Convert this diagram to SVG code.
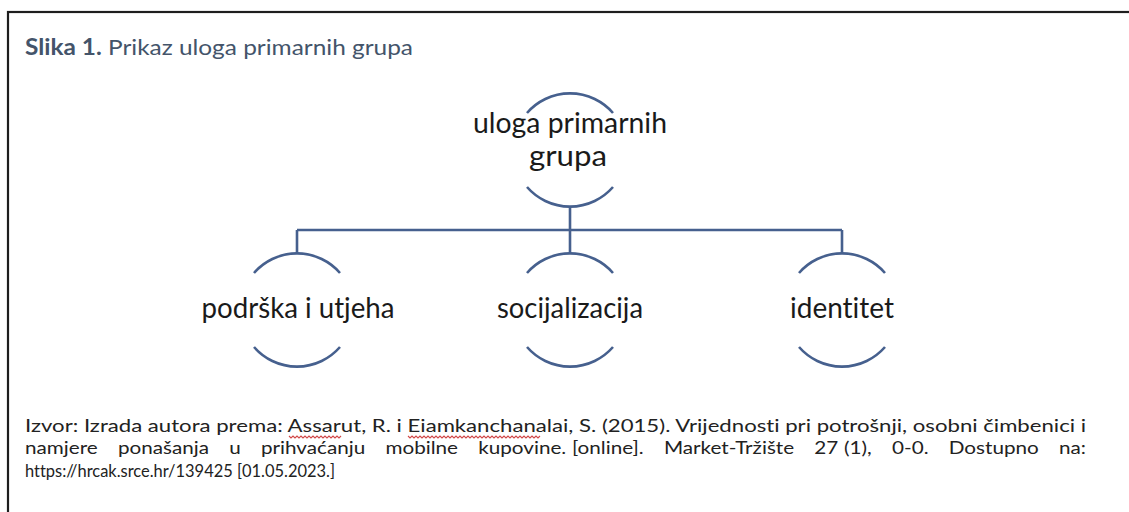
<svg xmlns="http://www.w3.org/2000/svg" width="1129" height="512" viewBox="0 0 1129 512">
<defs>
<style>
.frame{fill:#ffffff;stroke:#1e1e1e;stroke-width:2.2}
.arc{fill:none;stroke:#46608e;stroke-width:2.6;stroke-linecap:butt}
.conn{fill:none;stroke:#46608e;stroke-width:2.6}
text{font-variant-ligatures:none}
.node{font-family:Lato,"Liberation Sans",Arial,sans-serif;font-size:29px;fill:#1a1a1a;text-anchor:middle}
.title{font-family:Lato,"Liberation Sans",Arial,sans-serif;font-size:22px;fill:#44546a}
.cap{font-family:Lato,"Liberation Sans",Arial,sans-serif;font-size:18px;fill:#222222}
.wave{fill:none;stroke:#d04848;stroke-width:1.1}
</style>
</defs>
<rect x="0" y="0" width="1129" height="512" fill="#ffffff"/>
<rect class="frame" x="8" y="12" width="1140" height="520"/>
<text class="title" x="25" y="55" textLength="388" lengthAdjust="spacingAndGlyphs"><tspan font-weight="bold">Slika 1.</tspan> Prikaz uloga primarnih grupa</text>
<g id="connectors">
<path class="conn" d="M570 207 V230 M297 230 H842 M297 230 V253 M570 230 V253 M842 230 V253"/>
</g>
<g id="node-root">
<path class="arc" d="M527 113 A57 57 0 0 1 613 113"/>
<path class="arc" d="M527 187 A57 57 0 0 0 613 187"/>
<text class="node" x="570" y="133" textLength="194" lengthAdjust="spacingAndGlyphs">uloga primarnih</text>
<text class="node" x="568" y="166" textLength="78" lengthAdjust="spacingAndGlyphs">grupa</text>
</g>
<g id="node-podrska">
<path class="arc" d="M254 273 A57 57 0 0 1 340 273"/>
<path class="arc" d="M254 347 A57 57 0 0 0 340 347"/>
<text class="node" x="298" y="318" textLength="193" lengthAdjust="spacingAndGlyphs">podrška i utjeha</text>
</g>
<g id="node-socijalizacija">
<path class="arc" d="M527 273 A57 57 0 0 1 613 273"/>
<path class="arc" d="M527 347 A57 57 0 0 0 613 347"/>
<text class="node" x="570" y="318" textLength="146" lengthAdjust="spacingAndGlyphs">socijalizacija</text>
</g>
<g id="node-identitet">
<path class="arc" d="M799 273 A57 57 0 0 1 885 273"/>
<path class="arc" d="M799 347 A57 57 0 0 0 885 347"/>
<text class="node" x="842" y="318" textLength="104" lengthAdjust="spacingAndGlyphs">identitet</text>
</g>
<g id="caption">
<text class="cap" x="25" y="432" textLength="1061" lengthAdjust="spacingAndGlyphs">Izvor: Izrada autora prema: Assarut, R. i Eiamkanchanalai, S. (2015). Vrijednosti pri potrošnji, osobni čimbenici i</text>
<path class="wave" d="M289 436 l2 2 l2 -2 l2 2 l2 -2 l2 2 l2 -2 l2 2 l2 -2 l2 2 l2 -2 l2 2 l2 -2 l2 2 l2 -2 l2 2 l2 -2 l2 2 l2 -2 l2 2 l2 -2 l2 2 l2 -2 l2 2 l2 -2 l2 2 l2 -2"/>
<path class="wave" d="M408 436 l2 2 l2 -2 l2 2 l2 -2 l2 2 l2 -2 l2 2 l2 -2 l2 2 l2 -2 l2 2 l2 -2 l2 2 l2 -2 l2 2 l2 -2 l2 2 l2 -2 l2 2 l2 -2 l2 2 l2 -2 l2 2 l2 -2 l2 2 l2 -2 l2 2 l2 -2 l2 2 l2 -2 l2 2 l2 -2 l2 2 l2 -2 l2 2 l2 -2 l2 2 l2 -2 l2 2 l2 -2 l2 2 l2 -2 l2 2 l2 -2 l2 2 l2 -2 l2 2 l2 -2 l2 2 l2 -2 l2 2 l2 -2 l2 2 l2 -2 l2 2 l2 -2 l2 2 l2 -2 l2 2 l2 -2 l2 2 l2 -2 l2 2 l2 -2 l2 2 l2 -2"/>
<text class="cap" x="25" y="454" textLength="1061" lengthAdjust="spacingAndGlyphs" word-spacing="13">namjere ponašanja u prihvaćanju mobilne kupovine.<tspan dx="5">[online].</tspan> Market-Tržište 27<tspan dx="5">(1),</tspan> 0-0. Dostupno na:</text>
<text class="cap" x="25" y="477" textLength="310" lengthAdjust="spacingAndGlyphs">https://hrcak.srce.hr/139425 [01.05.2023.]</text>
</g>
</svg>
